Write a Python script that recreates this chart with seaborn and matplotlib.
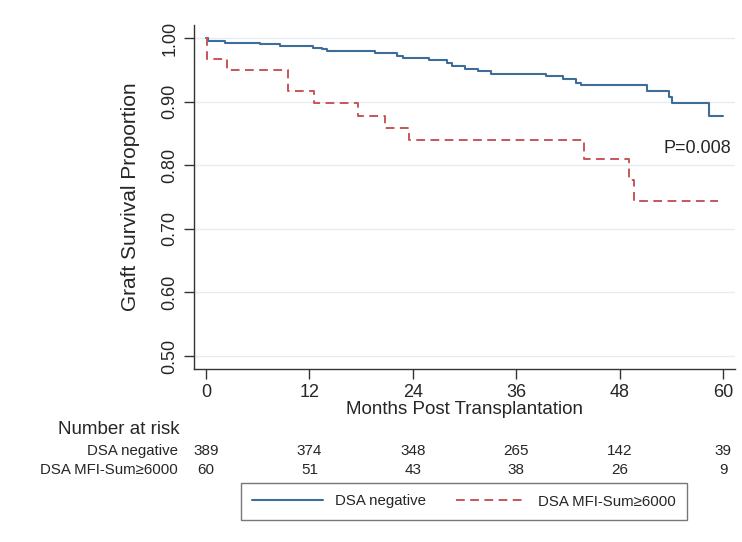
import numpy as np
import pandas as pd
import matplotlib
matplotlib.use("Agg")
import matplotlib.pyplot as plt
import matplotlib.transforms as mtransforms
import seaborn as sns

# ---- data ----
neg_months = [0, 0.2, 2.2, 6.3, 8.6, 12.4, 13.5, 14.1, 19.6, 22.2, 22.9, 25.9, 28.0,
              28.6, 30.0, 31.6, 33.1, 39.4, 41.4, 42.9, 43.5, 51.2, 53.7, 54.1, 58.4, 60.0]
neg_surv = [1.0, 0.996, 0.992, 0.990, 0.987, 0.984, 0.982, 0.979, 0.977, 0.971, 0.969,
            0.965, 0.961, 0.956, 0.951, 0.948, 0.944, 0.940, 0.935, 0.930, 0.926, 0.917,
            0.907, 0.897, 0.878, 0.878]
pos_months = [0, 0.1, 2.4, 9.5, 12.5, 17.6, 20.8, 23.6, 43.9, 49.1, 49.7, 59.4]
pos_surv = [1.0, 0.967, 0.950, 0.917, 0.898, 0.878, 0.859, 0.840, 0.809, 0.776, 0.744, 0.744]

group_names = ["DSA negative", "DSA MFI-Sum\u22656000"]
risk_times = [0, 12, 24, 36, 48, 60]
risk_neg = [389, 374, 348, 265, 142, 39]
risk_pos = [60, 51, 43, 38, 26, 9]
y_ticks = [0.50, 0.60, 0.70, 0.80, 0.90, 1.00]
p_text = "P=0.008"

sns.set_style("white")
plt.rcParams['font.family'] = ['Liberation Sans', 'DejaVu Sans']

W, H = 742, 542
fig = plt.figure(figsize=(W / 100, H / 100), dpi=100)
ax = fig.add_axes([194 / W, 1 - 369 / H, (735 - 194) / W, (369 - 25) / H])

df = pd.concat([
    pd.DataFrame({"month": neg_months, "surv": neg_surv, "group": group_names[0]}),
    pd.DataFrame({"month": pos_months, "surv": pos_surv, "group": group_names[1]}),
])

blue = "#3f6d9a"
red = "#c9555a"
sns.lineplot(data=df[df.group == group_names[0]], x="month", y="surv", ax=ax,
             drawstyle="steps-post", color=blue, lw=1.5, estimator=None,
             label=group_names[0])
sns.lineplot(data=df[df.group == group_names[1]], x="month", y="surv", ax=ax,
             drawstyle="steps-post", color=red, lw=1.4, estimator=None,
             dashes=False, label=group_names[1])
ax.lines[1].set_dashes((4.5, 2.8))

ax.set_xlim(-1.39, 61.39)
ax.set_ylim(0.4796, 1.0204)
ax.set_xticks(risk_times)
ax.set_yticks(y_ticks)
ax.set_yticklabels([f"{v:.2f}" for v in y_ticks], rotation=90, va="center")
ax.tick_params(axis="both", which="major", direction="out", length=7, width=1,
               color="#333333", labelsize=13, pad=4, left=True, bottom=True)
ax.grid(axis="y", color="#e4eef0", lw=1)
ax.grid(axis="x", visible=False)
for s in ["top", "right"]:
    ax.spines[s].set_visible(False)
for s in ["left", "bottom"]:
    ax.spines[s].set_color("#333333")
    ax.spines[s].set_linewidth(1)

ax.set_xlabel("Months Post Transplantation", fontsize=13.5, labelpad=0)
ax.set_ylabel("Graft Survival Proportion", fontsize=15, labelpad=16)

ax.text(60.9, 0.827, p_text, fontsize=13, ha="right", va="center")

# number at risk table
trans = mtransforms.blended_transform_factory(ax.transData, fig.transFigure)
fig.text(180 / W, 1 - 430 / H, "Number at risk", fontsize=13.5, ha="right", va="center")
fig.text(178 / W, 1 - 451 / H, group_names[0], fontsize=10.8, ha="right", va="center")
fig.text(178 / W, 1 - 470 / H, group_names[1], fontsize=10.8, ha="right", va="center")
for t, a, b in zip(risk_times, risk_neg, risk_pos):
    fig.text(t, 1 - 451 / H, str(a), fontsize=11, ha="center", va="center", transform=trans)
    fig.text(t, 1 - 470 / H, str(b), fontsize=11, ha="center", va="center", transform=trans)

leg = ax.legend(loc="center", bbox_to_anchor=(464 / W, 1 - 501.5 / H),
                bbox_transform=fig.transFigure, ncol=2, fontsize=10.8,
                frameon=True, fancybox=False, edgecolor="#555555",
                handlelength=4.7, handletextpad=0.8, columnspacing=2.0,
                borderpad=0.75, borderaxespad=0)
leg.get_frame().set_linewidth(1)

fig.savefig("out.png", dpi=100, facecolor="white")
